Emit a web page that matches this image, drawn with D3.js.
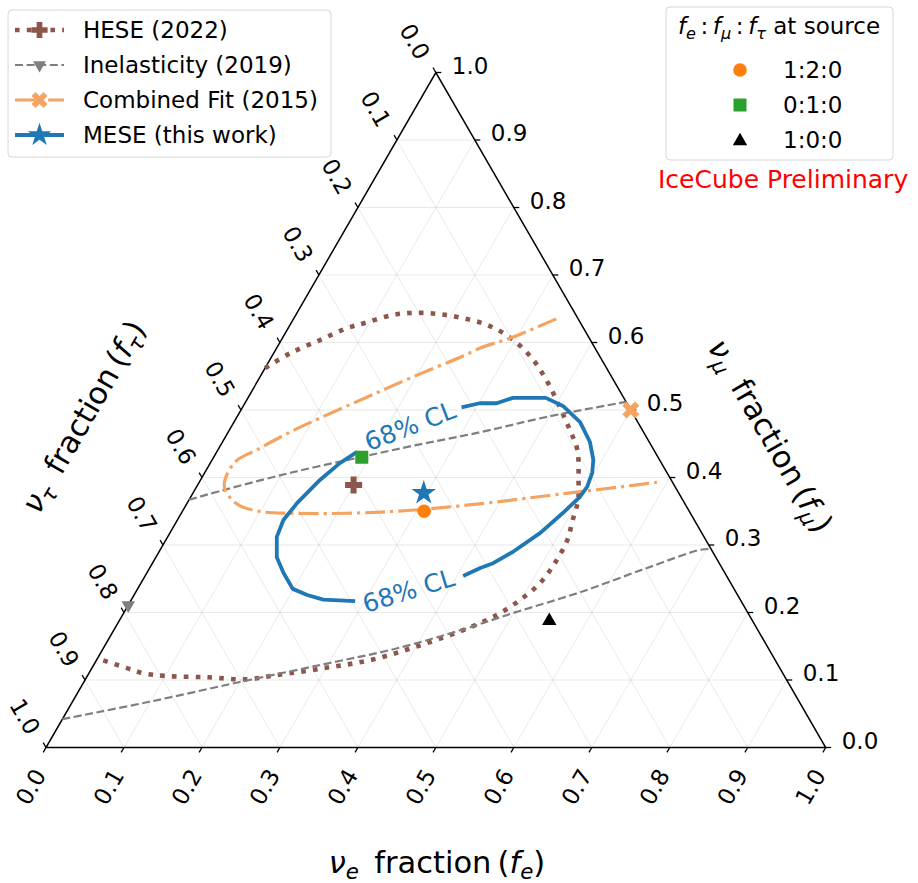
<!DOCTYPE html>
<html><head><meta charset="utf-8">
<script src="https://cdn.jsdelivr.net/npm/d3@7"></script>
<style>body{margin:0;background:#fff} text{font-family:"DejaVu Sans",sans-serif;fill:#000}</style>
</head><body><svg id="c" width="918" height="883"></svg>
<script>
// ---------------- data (ternary coordinates [f_e, f_mu]; f_tau = 1 - f_e - f_mu) ----------------
const tickValues = [0,0.1,0.2,0.3,0.4,0.5,0.6,0.7,0.8,0.9,1.0];
const tickLabels = ["0.0","0.1","0.2","0.3","0.4","0.5","0.6","0.7","0.8","0.9","1.0"];
const gridValues = [0.1,0.2,0.3,0.4,0.5,0.6,0.7,0.8,0.9];

const heseContour = [[0.000,0.562],[0.021,0.584],[0.050,0.604],[0.075,0.621],[0.097,0.630],[0.125,0.641],[0.154,0.644],[0.184,0.642],[0.217,0.636],[0.253,0.626],[0.292,0.607],[0.332,0.579],[0.370,0.544],[0.407,0.504],[0.437,0.470],[0.461,0.441],[0.485,0.396],[0.499,0.367],[0.507,0.337],[0.515,0.307],[0.516,0.273],[0.512,0.244],[0.499,0.219],[0.483,0.199],[0.471,0.189],[0.443,0.171],[0.399,0.149],[0.353,0.130],[0.300,0.118],[0.241,0.107],[0.207,0.101],[0.156,0.104],[0.100,0.106],[0.070,0.110],[0.044,0.118],[0.006,0.130]];
const inelUpper = [[0.000,0.367],[0.036,0.381],[0.110,0.407],[0.188,0.430],[0.247,0.447],[0.323,0.467],[0.398,0.490],[0.488,0.512]];
const inelLower = [[0.000,0.042],[0.096,0.067],[0.200,0.097],[0.297,0.124],[0.377,0.147],[0.450,0.176],[0.499,0.199],[0.570,0.230],[0.638,0.266],[0.693,0.293],[0.706,0.294]];
const combinedContour = [[0.337,0.635],[0.295,0.608],[0.261,0.592],[0.245,0.580],[0.196,0.549],[0.152,0.519],[0.110,0.490],[0.079,0.467],[0.050,0.441],[0.031,0.423],[0.034,0.389],[0.050,0.371],[0.070,0.358],[0.104,0.349],[0.139,0.347],[0.212,0.347],[0.275,0.350],[0.336,0.356],[0.397,0.364],[0.456,0.373],[0.496,0.379],[0.543,0.386],[0.587,0.393]];
const meseSegA = [[0.281,0.504],[0.301,0.510],[0.323,0.510],[0.340,0.518],[0.362,0.518],[0.382,0.518],[0.410,0.506],[0.444,0.482],[0.471,0.453],[0.489,0.426],[0.497,0.407],[0.501,0.386],[0.499,0.371],[0.489,0.347],[0.475,0.318],[0.454,0.290],[0.437,0.273],[0.424,0.266],[0.408,0.254]];
const meseSegB = [[0.288,0.217],[0.246,0.219],[0.222,0.226],[0.199,0.235],[0.175,0.259],[0.155,0.282],[0.140,0.312],[0.136,0.337],[0.141,0.362],[0.153,0.396],[0.166,0.421],[0.180,0.438]];
const clLabelText = "68% CL";
const clLabelPos = [[0.229,0.476],[0.349,0.232]];
const clLabelRot = [-21,-17];

const bestFits = {hese:[0.200,0.389], inel:[0.000,0.211], combined:[0.500,0.500], mese:[0.296,0.377]};
const sourcePoints = [[0.310,0.350],[0.190,0.430],[0.551,0.189]];
const sourceLabels = ["1:2:0","0:1:0","1:0:0"];
const seriesNames = ["HESE (2022)","Inelasticity (2019)","Combined Fit (2015)","MESE (this work)"];

// ---------------- setup ----------------
const svg = d3.select("#c");
const xs = d3.scaleLinear().domain([0,1]).range([46,825.7]);
const ys = d3.scaleLinear().domain([0,1]).range([747.5,72.5]);
const P = (fe,fm) => [xs(fe + fm/2), ys(fm)];
const C = {brown:"#8c564b", grey:"#7f7f7f", sandy:"#f4a460", blue:"#1f77b4", orange:"#ff7f0e", green:"#2ca02c"};
const styles = {
  hese:{stroke:C.brown,w:4.6,dash:"4.6,7.2"},
  inel:{stroke:C.grey,w:2.2,dash:"8,3.6"},
  comb:{stroke:C.sandy,w:3.2,dash:"20,5,3.2,5"},
  mese:{stroke:C.blue,w:3.8,dash:null}
};

// grid
const g = svg.append("g").attr("stroke","#b0b0b0").attr("stroke-opacity",0.35).attr("stroke-width",0.8);
gridValues.forEach(v=>{
  [[P(v,0),P(v,1-v)],[P(0,v),P(1-v,v)],[P(0,1-v),P(1-v,0)]].forEach(([a,b])=>{
    g.append("line").attr("x1",a[0]).attr("y1",a[1]).attr("x2",b[0]).attr("y2",b[1]);
  });
});

// edges
svg.append("path").attr("d","M"+P(0,0)+"L"+P(1,0)+"L"+P(0,1)+"Z")
  .attr("fill","none").attr("stroke","#000").attr("stroke-width",1.5);

// ticks
const tk = svg.append("g").attr("stroke","#000").attr("stroke-width",1.3);
const lab = svg.append("g").attr("font-size",23);
tickValues.forEach((v,i)=>{
  let p = P(v,0);
  tk.append("line").attr("x1",p[0]).attr("y1",p[1]).attr("x2",p[0]-2.8).attr("y2",p[1]+4.8);
  lab.append("text").attr("transform",`translate(${p[0]-6},${p[1]+23.5}) rotate(-60)`)
    .attr("text-anchor","end").attr("dominant-baseline","central").text(tickLabels[i]);
  p = P(1-v,v);
  tk.append("line").attr("x1",p[0]).attr("y1",p[1]).attr("x2",p[0]+5.5).attr("y2",p[1]);
  lab.append("text").attr("x",p[0]+16).attr("y",p[1]-7)
    .attr("dominant-baseline","central").text(tickLabels[i]);
  p = P(0,1-v);
  tk.append("line").attr("x1",p[0]).attr("y1",p[1]).attr("x2",p[0]-2.8).attr("y2",p[1]-4.8);
  lab.append("text").attr("transform",`translate(${p[0]-12},${p[1]-15}) rotate(60)`)
    .attr("text-anchor","end").attr("dominant-baseline","central").text(tickLabels[i]);
});

// axis titles
function mathTitle(sel, sub){
  sel.append("tspan").attr("font-style","italic").text("ν");
  sel.append("tspan").attr("font-style","italic").attr("font-size","70%").attr("dy",6).text(sub);
  sel.append("tspan").attr("dy",-6).text("\u2002fraction\u2009(");
  sel.append("tspan").attr("font-style","italic").text("f");
  sel.append("tspan").attr("font-style","italic").attr("font-size","70%").attr("dy",6).text(sub);
  sel.append("tspan").attr("dy",-6).text(")");
}
const TF = 30.5;
mathTitle(svg.append("text").attr("font-size",TF).attr("text-anchor","middle")
  .attr("x",437).attr("y",873), "e");
mathTitle(svg.append("text").attr("font-size",TF).attr("text-anchor","middle")
  .attr("transform","translate(770,436) rotate(60)").attr("dy",10), "μ");
mathTitle(svg.append("text").attr("font-size",TF).attr("text-anchor","middle")
  .attr("transform","translate(84,417) rotate(-60)").attr("dy",10), "τ");

// contours
const line = d3.line().x(d=>P(d[0],d[1])[0]).y(d=>P(d[0],d[1])[1]);
const smooth = d3.line().x(d=>P(d[0],d[1])[0]).y(d=>P(d[0],d[1])[1]).curve(d3.curveCatmullRom.alpha(0.5));
function draw(data, st, gen){
  const p = svg.append("path").attr("d",gen(data)).attr("fill","none")
    .attr("stroke",st.stroke).attr("stroke-width",st.w).attr("stroke-linejoin","round");
  if(st.dash) p.attr("stroke-dasharray",st.dash);
}
draw(heseContour, styles.hese, smooth);
draw(inelUpper, styles.inel, smooth);
draw(inelLower, styles.inel, smooth);
draw(combinedContour, styles.comb, smooth);
draw(meseSegA, styles.mese, line);
draw(meseSegB, styles.mese, line);
clLabelPos.forEach((d,i)=>{
  const p = P(d[0],d[1]);
  svg.append("text").attr("transform",`translate(${p[0]},${p[1]}) rotate(${clLabelRot[i]})`)
    .attr("text-anchor","middle").attr("dominant-baseline","central")
    .attr("font-size",25).style("fill",C.blue).text(clLabelText);
});

// marker helpers
function plusPath(a,t){return `M${-t},${-a}H${t}V${-t}H${a}V${t}H${t}V${a}H${-t}V${t}H${-a}V${-t}H${-t}Z`;}
const markers = {
  hese: (sel,s)=>sel.append("path").attr("d",plusPath(8.5*s,3*s)).attr("fill",C.brown),
  inel: (sel,s)=>sel.append("path").attr("d",d3.symbol(d3.symbolTriangle,80*s*s)()).attr("transform","rotate(180)").attr("fill",C.grey),
  comb: (sel,s)=>sel.append("path").attr("d",plusPath(9*s,3*s)).attr("transform","rotate(45)").attr("fill",C.sandy),
  mese: (sel,s)=>sel.append("path").attr("d",d3.symbol(d3.symbolStar,190*s*s)()).attr("fill",C.blue)
};
function placeMarker(key, pt, s){
  const p = P(pt[0],pt[1]);
  markers[key](svg.append("g").attr("transform",`translate(${p[0]},${p[1]})`), s);
}
placeMarker("hese", bestFits.hese, 1);
placeMarker("inel", bestFits.inel, 1);
placeMarker("comb", bestFits.combined, 1);

// source points
const srcSyms = [
  (sel)=>sel.append("circle").attr("r",6.8).attr("fill",C.orange),
  (sel)=>sel.append("rect").attr("x",-6.5).attr("y",-6.5).attr("width",13).attr("height",13).attr("fill",C.green),
  (sel)=>sel.append("path").attr("d",d3.symbol(d3.symbolTriangle,90)()).attr("transform","translate(0,1)").attr("fill","#000")
];
sourcePoints.forEach((d,i)=>{
  const p = P(d[0],d[1]);
  srcSyms[i](svg.append("g").attr("transform",`translate(${p[0]},${p[1]})`));
});
placeMarker("mese", bestFits.mese, 1);

// left legend
const L = svg.append("g");
L.append("rect").attr("x",8).attr("y",10).attr("width",323).attr("height",147).attr("rx",4)
  .attr("fill","#fff").attr("fill-opacity",0.8).attr("stroke","#d6d6d6").attr("stroke-width",1);
const keys = ["hese","inel","comb","mese"];
keys.forEach((k,i)=>{
  const y = 30 + i*35;
  const st = styles[k];
  const ln = L.append("line").attr("x1",15).attr("x2",64).attr("y1",y).attr("y2",y)
    .attr("stroke",st.stroke).attr("stroke-width",st.w);
  if(st.dash) ln.attr("stroke-dasharray",st.dash);
  markers[k](L.append("g").attr("transform",`translate(39.5,${y})`), 0.95);
  L.append("text").attr("x",83).attr("y",y).attr("dominant-baseline","central")
    .attr("font-size",23).text(seriesNames[i]);
});

// right legend
const R = svg.append("g");
R.append("rect").attr("x",666).attr("y",7).attr("width",227).attr("height",153).attr("rx",4)
  .attr("fill","#fff").attr("fill-opacity",0.8).attr("stroke","#d6d6d6").attr("stroke-width",1);
const tt = R.append("text").attr("x",779).attr("y",34).attr("text-anchor","middle").attr("font-size",23);
const ratioParts = [["f","e"],["f","μ"],["f","τ"]];
ratioParts.forEach((d,i)=>{
  if(i>0) tt.append("tspan").attr("dy",-5).text("\u2009:\u2009");
  tt.append("tspan").attr("font-style","italic").text(d[0]);
  tt.append("tspan").attr("font-style","italic").attr("font-size","70%").attr("dy",5).text(d[1]);
});
tt.append("tspan").attr("dy",-5).text(" at source");
sourceLabels.forEach((t,i)=>{
  const y = 70 + i*35;
  srcSyms[i](R.append("g").attr("transform",`translate(740,${y})`));
  R.append("text").attr("x",783).attr("y",y).attr("dominant-baseline","central").attr("font-size",23).text(t);
});
svg.append("text").attr("x",658).attr("y",188).attr("font-size",25).style("fill","#ff0000").text("IceCube Preliminary");
</script></body></html>
